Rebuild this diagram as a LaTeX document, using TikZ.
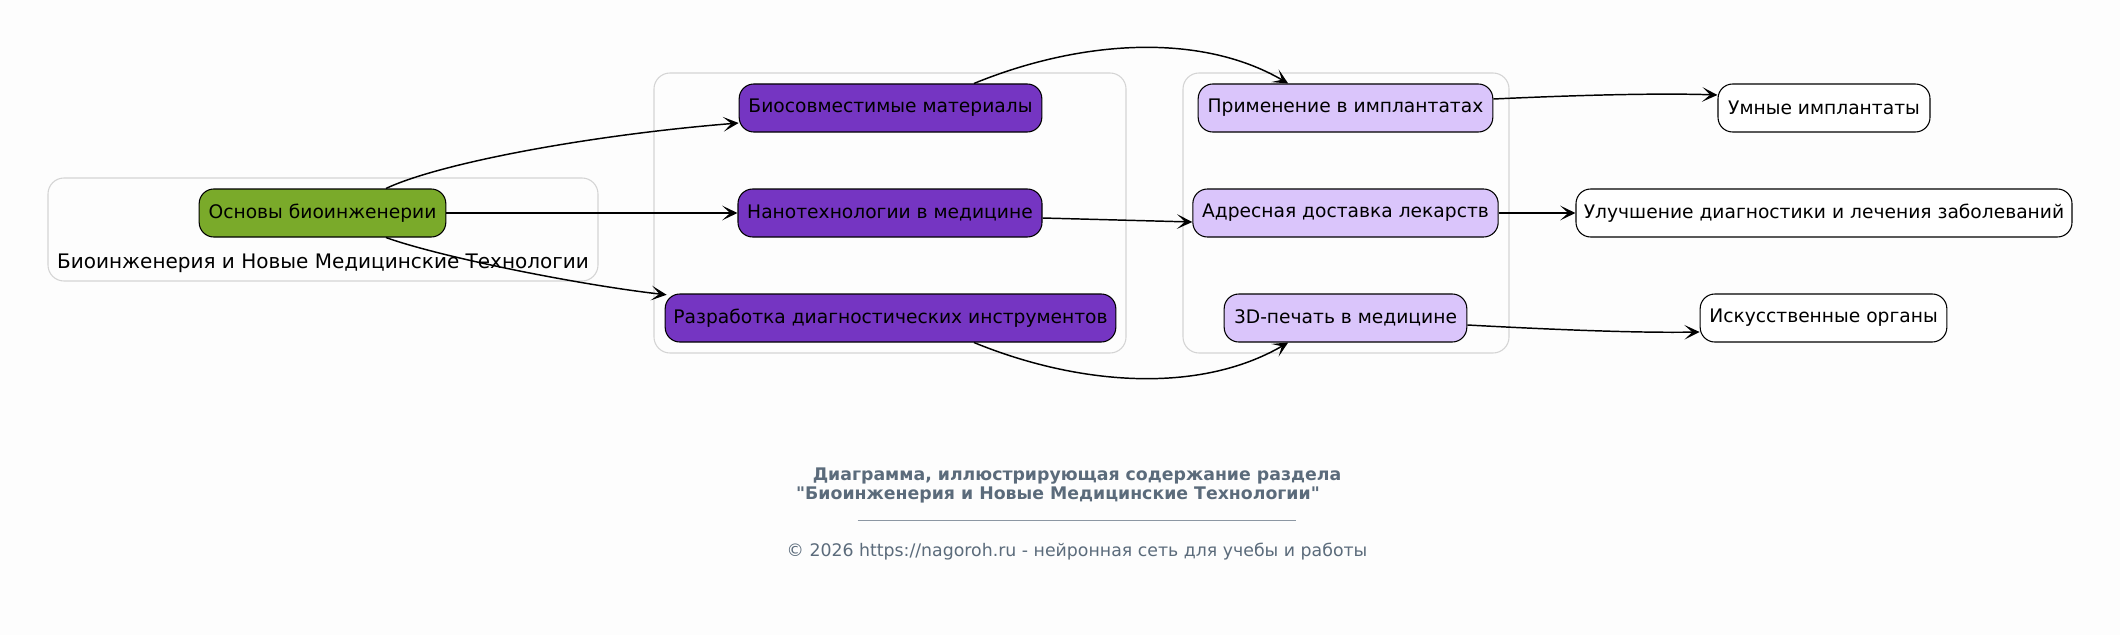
\documentclass[tikz,border=0pt]{standalone}
\usepackage{fontspec}
\setmainfont{DejaVu Sans}
\newfontfamily\plainfont[Ligatures=TeXOff]{DejaVu Sans}
\usetikzlibrary{arrows.meta}

\definecolor{basegreen}{HTML}{7AAA2A}
\definecolor{areapurple}{HTML}{7535C2}
\definecolor{uselilac}{HTML}{DAC5FB}
\definecolor{framegrey}{HTML}{D4D4D4}
\definecolor{notegrey}{HTML}{5B6B7B}
\definecolor{paper}{HTML}{FDFDFD}

\tikzset{
  x=0.75pt, y=-0.75pt,
  box/.style={draw, rounded corners=11pt, line width=0.8pt, minimum height=36pt,
    inner sep=0pt, font=\fontsize{14}{16}\selectfont},
  basebox/.style={box, fill=basegreen},
  areabox/.style={box, fill=areapurple},
  usebox/.style={box, fill=uselilac},
  resultbox/.style={box, fill=white},
  frame/.style={draw=framegrey, rounded corners=12pt, line width=0.8pt},
  link/.style={line width=1.1pt, -{Stealth[length=11.5pt,width=11pt,inset=6pt]}},
  note/.style={text=notegrey, font=\fontsize{13}{15}\selectfont},
}

\begin{document}
\begin{tikzpicture}
\fill[paper] (0,0) rectangle (2120,635);
\useasboundingbox (0,0) rectangle (2120,635);

% clusters
\draw[frame] (48,178) rectangle (598,281);
\draw[frame] (654,73) rectangle (1126,353);
\draw[frame] (1183,73) rectangle (1509,353);
\node (cl1) at (323,263) {\fontsize{15}{17}\selectfont Биоинженерия и Новые Медицинские Технологии};

% nodes
\node[basebox, minimum width=185pt] (base) at (322.5,213) {Основы биоинженерии};
\node[areabox, minimum width=227pt] (bio) at (890.5,108) {Биосовместимые материалы};
\node[areabox, minimum width=228pt] (nano) at (890,213) {Нанотехнологии в медицине};
\node[areabox, minimum width=338pt] (diag) at (890.5,318) {Разработка диагностических инструментов};
\node[usebox, minimum width=221pt] (impl) at (1345.5,108) {Применение в имплантатах};
\node[usebox, minimum width=229pt] (deliv) at (1345.5,213) {Адресная доставка лекарств};
\node[usebox, minimum width=182pt] (print) at (1345.5,318) {3D-печать в медицине};
\node[resultbox, minimum width=159pt] (smart) at (1824,108) {Умные имплантаты};
\node[resultbox, minimum width=372pt] (cure) at (1824,213) {Улучшение диагностики и лечения заболеваний};
\node[resultbox, minimum width=185pt] (organ) at (1823.5,318) {Искусственные органы};

% edges
\draw[link] ([xshift=47.6pt]base.north) .. controls (440,163) and (590,135) .. ([yshift=-11.25pt]bio.west);
\draw[link] (base.east) -- (nano.west);
\draw[link] ([xshift=47.6pt]base.south) .. controls (440,257) and (580,285) .. ([xshift=1.5pt,yshift=-1pt]diag.north west);
\draw[link] ([xshift=62.6pt]bio.north) .. controls (1080,40) and (1200,32) .. ([xshift=-43pt]impl.north);
\draw[link] ([yshift=-3.75pt]nano.east) -- ([yshift=-6.75pt]deliv.west);
\draw[link] ([xshift=62.6pt]diag.south) .. controls (1080,386) and (1200,394) .. ([xshift=-43pt]print.south);
\draw[link] ([yshift=6.75pt]impl.east) .. controls (1580,95) and (1660,93) .. ([yshift=9.75pt]smart.west);
\draw[link] (deliv.east) -- (cure.west);
\draw[link] ([yshift=-5.25pt]print.east) .. controls (1560,330) and (1640,333) .. ([yshift=-10.5pt]organ.west);

% footer
\node[note, font=\fontsize{13}{15}\selectfont\bfseries] (title1) at (1077,476) {Диаграмма, иллюстрирующая содержание раздела};
\node[note, font=\plainfont\fontsize{13}{15}\selectfont\bfseries] (title2) at (1058,495) {"Биоинженерия и Новые Медицинские Технологии"};
\node[note, inner sep=0pt] (rule) at (1077,520) {\color{notegrey!70}\rule{329pt}{0.6pt}};
\node[note] (copy) at (1077,552) {© 2026 https://nagoroh.ru - нейронная сеть для учебы и работы};
\end{tikzpicture}
\end{document}
